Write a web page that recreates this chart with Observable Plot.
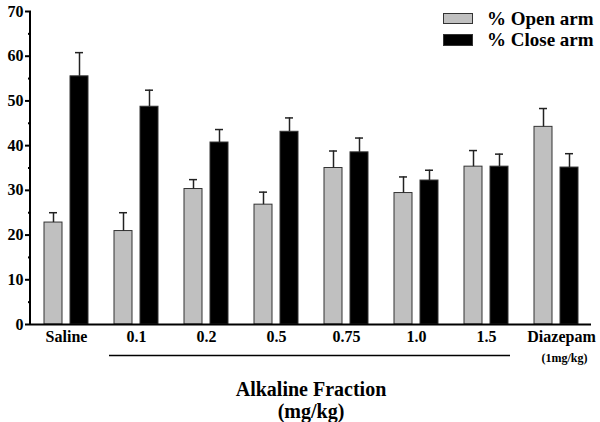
<!DOCTYPE html>
<html>
<head>
<meta charset="utf-8">
<script src="https://cdn.jsdelivr.net/npm/d3@7"></script>
<script src="https://cdn.jsdelivr.net/npm/@observablehq/plot@0.6"></script>
<style>
  body { margin: 0; background: #fff; }
  #wrap { position: relative; width: 600px; height: 422px; font-weight: bold; }
  #wrap, #wrap div, #wrap span, #wrap svg, #wrap svg text { font-family: 'Liberation Serif', 'Times New Roman', serif !important; }
  #legend { position: absolute; left: 443px; top: 8px; font-size: 19px; line-height: 21px; }
  .row { display: flex; align-items: center; height: 21px; }
  .sw { width: 30px; box-sizing: border-box; margin-right: 14px; }
  #title { position: absolute; left: 0; width: 622px; top: 378px; text-align: center; font-size: 20px; line-height: 22px; }
</style>
</head>
<body>
<div id="wrap">
  <div id="chart"></div>
  <div id="legend"></div>
  <div id="title">Alkaline Fraction<br>(mg/kg)</div>
</div>
<script>
const groups = ["Saline", "0.1", "0.2", "0.5", "0.75", "1.0", "1.5", "Diazepam"];
const series = ["% Open arm", "% Close arm"];
const openMean = [22.8, 20.9, 30.3, 26.8, 35.0, 29.4, 35.3, 44.2];
const openErr = [2.2, 4.1, 2.1, 2.8, 3.8, 3.6, 3.6, 4.1];
const closeMean = [55.5, 48.7, 40.7, 43.1, 38.5, 32.2, 35.3, 35.1];
const closeErr = [5.3, 3.7, 2.9, 3.1, 3.2, 2.3, 2.8, 3.1];
const yTicks = [0, 10, 20, 30, 40, 50, 60, 70];
const yMinorTicks = [5, 15, 25, 35, 45, 55, 65];
const doseGroups = ["Saline", "0.1", "0.2", "0.5", "0.75", "1.0", "1.5"];
const refGroups = ["Diazepam"];
const subLabels = ["(1mg/kg)"];
const lineFirst = ["0.1"];
const lineMiddle = ["0.2", "0.5", "0.75", "1.0"];
const lineLast = ["1.5"];
const colors = ["#c0c0c0", "#000000"];

const rows = [];
groups.forEach((g, i) => {
  rows.push({group: g, series: series[0], mean: openMean[i], err: openErr[i]});
  rows.push({group: g, series: series[1], mean: closeMean[i], err: closeErr[i]});
});

const FONT = "Liberation Serif";

const chart = Plot.plot({
  width: 600,
  height: 422,
  marginLeft: 30,
  marginRight: 8,
  marginTop: 11,
  marginBottom: 98,
  style: {fontFamily: FONT, fontWeight: "bold", fontSize: "15px", background: "#fff", color: "#000"},
  fx: {domain: groups, paddingInner: 0, paddingOuter: 0, axis: null, label: null},
  x: {domain: series, paddingInner: 0.31, paddingOuter: 0.5, axis: null},
  y: {domain: [0, 70], axis: null},
  color: {domain: series, range: colors},
  marks: [
    Plot.barY(rows, {fx: "group", x: "series", y: "mean", fill: "series", stroke: "#333", strokeWidth: 1}),
    Plot.ruleX(rows, {fx: "group", x: "series", y1: "mean", y2: d => d.mean + d.err, stroke: "#222", strokeWidth: 1.5}),
    Plot.tickY(rows, {fx: "group", x: "series", y: d => d.mean + d.err, stroke: "#222", strokeWidth: 1.5, insetLeft: 5, insetRight: 5}),
    Plot.ruleY([0], {stroke: "#000", strokeWidth: 2}),
    Plot.axisY(yTicks, {anchor: "left", tickSize: 6, tickPadding: 2, strokeWidth: 2, label: null, fontSize: 16, fontFamily: FONT, fontWeight: "bold"}),
    Plot.axisY(yMinorTicks, {anchor: "left", tickSize: 3, strokeWidth: 2, text: null, label: null}),
    Plot.text(doseGroups, {fx: d => d, text: d => d, frameAnchor: "bottom", dy: 17, fontSize: 16, fontFamily: FONT, fontWeight: "bold"}),
    Plot.text(refGroups, {fx: d => d, text: d => d, frameAnchor: "bottom", dy: 17, dx: 5, fontSize: 16, fontFamily: FONT, fontWeight: "bold"}),
    Plot.text(refGroups, {fx: d => d, text: (d, i) => subLabels[i], frameAnchor: "bottom", dy: 37, dx: 8, fontSize: 12, fontFamily: FONT, fontWeight: "bold"}),
    Plot.ruleY(lineFirst, {fx: d => d, y: () => 0, dy: 31, insetLeft: 8, stroke: "#000", strokeWidth: 1.5}),
    Plot.ruleY(lineMiddle, {fx: d => d, y: () => 0, dy: 31, stroke: "#000", strokeWidth: 1.5}),
    Plot.ruleY(lineLast, {fx: d => d, y: () => 0, dy: 31, insetRight: 11, stroke: "#000", strokeWidth: 1.5})
  ]
});
document.getElementById("chart").appendChild(chart);

// vertical y-axis line, positioned with the plot's own y scale
const yScale = chart.scale("y");
d3.select(chart).append("line")
  .attr("x1", 30).attr("x2", 30)
  .attr("y1", yScale.apply(yTicks[yTicks.length - 1]))
  .attr("y2", yScale.apply(yTicks[0]) + 1)
  .attr("stroke", "#000").attr("stroke-width", 2);
d3.select(chart).selectAll("text").attr("font-family", FONT);

const legend = document.getElementById("legend");
series.forEach((s, i) => {
  const row = document.createElement("div");
  row.className = "row";
  const sw = document.createElement("div");
  sw.className = "sw";
  sw.style.height = i === 0 ? "11px" : "12px";
  sw.style.background = colors[i];
  sw.style.border = "1px solid #333";
  const t = document.createElement("span");
  t.textContent = s;
  row.appendChild(sw);
  row.appendChild(t);
  legend.appendChild(row);
});
</script>
</body>
</html>
